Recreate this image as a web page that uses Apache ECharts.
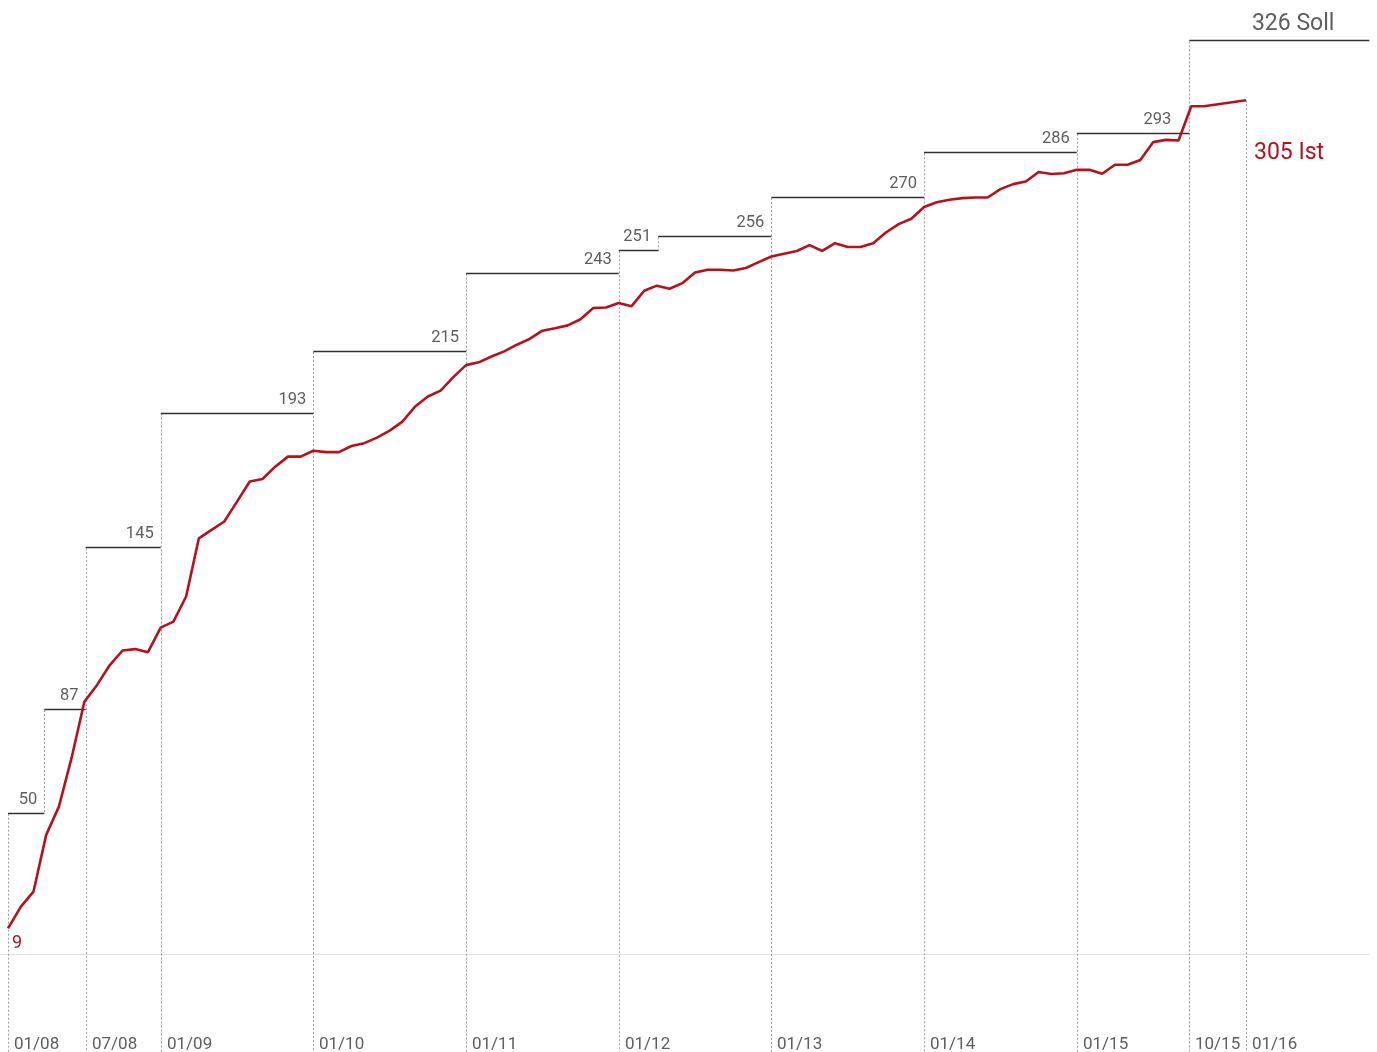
<!DOCTYPE html>
<html>
<head>
<meta charset="utf-8">
<script src="https://cdn.jsdelivr.net/npm/echarts@6/dist/echarts.min.js"></script>
<style>
  html, body { margin: 0; padding: 0; background: #ffffff; }
  #chart { width: 1377px; height: 1052px; }
</style>
</head>
<body>
<div id="chart"></div>
<script>
// Ist: monthly count, 01/2008 through 11/2015 (index = months since 01/2008)
const istMonthly = [
  9, 16.7, 22.1, 42.4, 52.5, 70, 90, 96, 103.1, 108.3, 108.8, 107.7,
  116.5, 118.6, 127.6, 148.4, 151.4, 154.4, 161.5, 168.7, 169.6, 174, 177.6, 177.6,
  179.7, 179.2, 179.2, 181.4, 182.4, 184.4, 186.9, 190.1, 195.5, 199.1, 201.2, 206,
  210.3, 211.3, 213.4, 215.2, 217.6, 219.7, 222.6, 223.5, 224.5, 226.7, 230.7, 230.9,
  232.5, 231.3, 236.9, 238.7, 237.6, 239.6, 243.4, 244.4, 244.4, 244.1, 245, 247.1,
  249.1, 250.1, 251.1, 253.2, 251.1, 253.9, 252.5, 252.5, 253.9, 257.7, 260.7, 262.6,
  266.8, 268.5, 269.4, 270, 270.2, 270.2, 273.2, 275, 275.9, 279.3, 278.6, 278.9,
  280.1, 280.1, 278.7, 281.9, 281.9, 283.6, 290, 290.8, 290.6, 302.8, 302.8
];
// latest Ist reading
const istLatestMonth = 97.3;
const istLatestValue = 305;

// Soll: target steps (start month, target value)
const sollStarts = [0, 2.85, 6.1, 12, 24, 36, 48, 51.1, 60, 72, 84, 92.85];
const sollValues = [50, 87, 145, 193, 215, 243, 251, 256, 270, 286, 293, 326];
const sollEnd = 107;

// period markers along the bottom
const periodLabels = ['01/08', '07/08', '01/09', '01/10', '01/11', '01/12', '01/13', '01/14', '01/15', '10/15', '01/16'];
const periodMonths = [0, 6.1, 12, 24, 36, 48, 60, 72, 84, 92.85, 97.3];

// ---- layout / styling ----
const X_MIN = -0.63, X_MAX = 107.6, Y_MIN = -35.2, Y_MAX = 340.8;
const FONT = 'Roboto, "Noto Sans", sans-serif';
const RED = '#b8111c';
const GREY_TEXT = '#5e5e5e';
const STEP = '#333333';
const DOT = '#9e9e9e';
const labelShift = { 10: 18, 11: 35 }; // extra room for the last two target labels

const istData = istMonthly.map((v, i) => [i, v]).concat([[istLatestMonth, istLatestValue]]);

const steps = sollStarts.map((s, i) => [
  s, i < sollStarts.length - 1 ? sollStarts[i + 1] : sollEnd, sollValues[i]
]);

// dotted verticals: [month, top value, bottom value]
const verticals = sollStarts.map((s, i) => [
  s, sollValues[i], periodMonths.includes(s) ? Y_MIN : sollValues[i - 1]
]);
verticals.push([istLatestMonth, istLatestValue, Y_MIN]);

const periods = periodMonths.map((m, i) => [m, periodLabels[i]]);

function renderStep(params, api) {
  const s = api.value(0), e = api.value(1), v = api.value(2);
  const a = api.coord([s, v]), b = api.coord([e, v]);
  const i = params.dataIndex;
  const last = i === sollValues.length - 1;
  const y = Math.round(a[1]) - 0.5;
  return {
    type: 'group',
    children: [
      { type: 'line', shape: { x1: a[0], y1: y, x2: b[0], y2: y },
        style: { stroke: STEP, lineWidth: 1.3 } },
      { type: 'text', x: b[0] - (labelShift[i] || 7), y: b[1] - (last ? 17 : 14),
        style: { text: last ? v + ' Soll' : String(v), fill: GREY_TEXT,
                 font: (last ? '23px ' : '16.5px ') + FONT, align: 'right', verticalAlign: 'middle' } }
    ]
  };
}

function renderVertical(params, api) {
  const m = api.value(0);
  const a = api.coord([m, api.value(1)]), b = api.coord([m, api.value(2)]);
  const x = Math.round(a[0]) + 0.5;
  return { type: 'line', shape: { x1: x, y1: a[1], x2: x, y2: b[1] },
           style: { stroke: DOT, lineWidth: 1, lineDash: [2, 2] } };
}

function renderPeriod(params, api) {
  const p = api.coord([api.value(0), Y_MIN]);
  return { type: 'text', x: Math.round(p[0]) + 6, y: p[1] - 7,
           style: { text: periods[params.dataIndex][1], fill: GREY_TEXT, font: '17px ' + FONT,
                    align: 'left', verticalAlign: 'middle' } };
}

function renderBaseline(params, api) {
  const a = api.coord([X_MIN, 0]), b = api.coord([sollEnd, 0]);
  const y = Math.round(a[1]) + 0.5;
  return { type: 'line', shape: { x1: a[0], y1: y, x2: b[0], y2: y },
           style: { stroke: '#e2e2e2', lineWidth: 1 } };
}

function renderEnds(params, api) {
  const first = api.coord([0, istMonthly[0]]);
  const lastP = api.coord([istLatestMonth, istLatestValue]);
  return {
    type: 'group',
    children: [
      { type: 'text', x: first[0] + 4, y: first[1] + 15,
        style: { text: String(istMonthly[0]), fill: RED, font: '18px ' + FONT, align: 'left', verticalAlign: 'middle' } },
      { type: 'text', x: lastP[0] + 8, y: lastP[1] + 53,
        style: { text: istLatestValue + ' Ist', fill: RED, font: '23px ' + FONT, align: 'left', verticalAlign: 'middle' } }
    ]
  };
}

const chart = echarts.init(document.getElementById('chart'), null, { renderer: 'canvas' });
chart.setOption({
  animation: false,
  backgroundColor: '#ffffff',
  grid: { left: 0, right: 0, top: 0, bottom: 0 },
  xAxis: { type: 'value', min: X_MIN, max: X_MAX, show: false },
  yAxis: { type: 'value', min: Y_MIN, max: Y_MAX, show: false },
  series: [
    { type: 'custom', silent: true, clip: false, renderItem: renderBaseline, data: [[0]], z: 1 },
    { type: 'custom', silent: true, clip: false, renderItem: renderVertical, data: verticals, z: 2 },
    { type: 'custom', silent: true, clip: false, renderItem: renderStep, data: steps, z: 3 },
    { type: 'custom', silent: true, clip: false, renderItem: renderPeriod, data: periods.map(p => [p[0]]), z: 3 },
    { type: 'line', data: istData, showSymbol: false, silent: true,
      lineStyle: { color: RED, width: 2.6 }, z: 5 },
    { type: 'custom', silent: true, clip: false, renderItem: renderEnds, data: [[0]], z: 6 }
  ]
});
</script>
</body>
</html>
